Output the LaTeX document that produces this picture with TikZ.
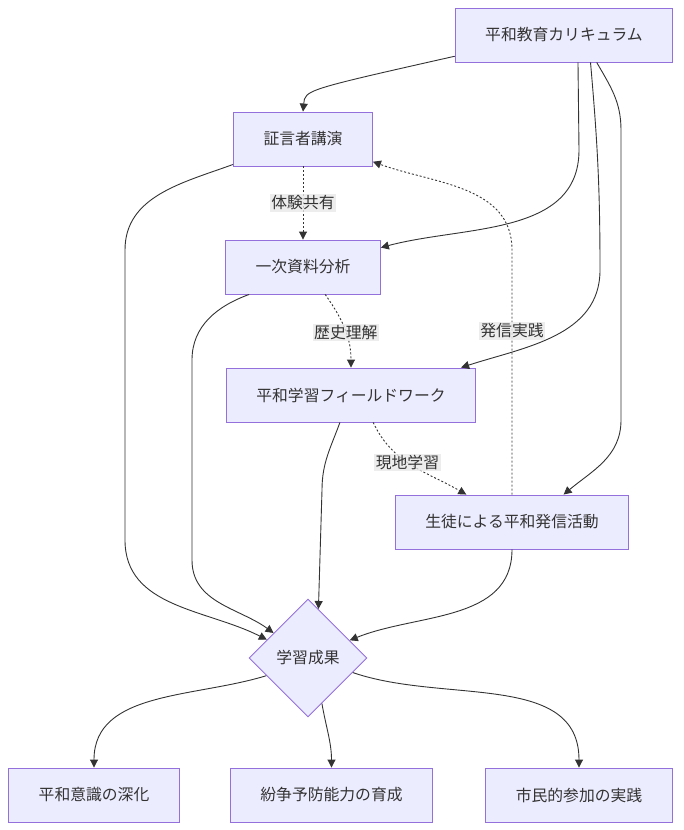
\documentclass[tikz,border=0pt]{standalone}
\usepackage{fontspec}
\usetikzlibrary{arrows.meta,shapes.geometric}
\setmainfont{Noto Sans CJK JP}
\definecolor{boxfill}{HTML}{ECECFF}
\definecolor{boxline}{HTML}{9370DB}
\definecolor{ink}{HTML}{333333}
\definecolor{lblfill}{HTML}{E8E8E8}

\begin{document}
\begin{tikzpicture}[x=1pt,y=1pt,
        font=\fontsize{15.8pt}{19pt}\selectfont, text=ink,
        box/.style={draw=boxline,fill=boxfill,line width=0.9pt,inner xsep=30pt,minimum height=54pt},
        goal/.style={diamond,draw=boxline,fill=boxfill,line width=0.9pt,inner sep=0pt,minimum width=118pt,minimum height=118pt},
        link/.style={draw=ink,line width=0.9pt,-{Triangle[length=8pt,width=8pt]}},
        dotlink/.style={link,dash pattern=on 2pt off 2pt},
        lbl/.style={fill=lblfill,fill opacity=0.8,text opacity=1,inner sep=1.5pt}]
    \useasboundingbox (0,0) rectangle (683,-830);
    \node[box] (cur) at (564,-35) {平和教育カリキュラム};
    \node[box] (lec) at (303,-139) {証言者講演};
    \node[box] (src) at (303,-267) {一次資料分析};
    \node[box] (field) at (351,-395) {平和学習フィールドワーク};
    \node[box] (act) at (512,-522) {生徒による平和発信活動};
    \node[goal] (res) at (308,-658) {学習成果};
    \node[box] (aware) at (94,-795) {平和意識の深化};
    \node[box] (prevent) at (331.5,-795) {紛争予防能力の育成};
    \node[box] (civic) at (579,-795) {市民的参加の実践};

    \draw[link] (cur.191) .. controls (305,-90) .. (lec.north);
    \draw[link] (cur.297) -- (579,-150) to[out=-90,in=15] (src.14);
    \draw[link] (cur.314) to[out=-85,in=90] (600,-270) to[out=-90,in=18] (field.14);
    \draw[link] (cur.320) to[out=-60,in=90] (621,-130) -- (621,-420) to[out=-90,in=40] (act.28);
    \draw[dotlink] (lec) -- node[lbl] {体験共有} (src);
    \draw[dotlink] (src.309) to[out=-55,in=90] node[lbl,pos=.55] {歴史理解} (field.north);
    \draw[dotlink] (field.309) to[out=-65,in=150] node[lbl,pos=.45] {現地学習} (act.149);
    \draw[dotlink] (act.north) -- node[lbl,pos=.67] {発信実践} (512,-250) to[out=90,in=-20] (lec.342);
    \draw[link] (lec.200) to[out=200,in=90] (125,-250) -- (125,-540) to[out=-90,in=153] (res.156);
    \draw[link] (src.207) to[out=200,in=90] (192,-360) -- (192,-560) to[out=-90,in=144] (res.144);
    \draw[link] (field.248) to[out=-110,in=90] (322,-490) -- (res.78);
    \draw[link] (act.south) to[out=-90,in=22] (res.23);
    \draw[link] (res.203) to[out=197,in=90] (aware.north);
    \draw[link] (res.287) to[out=-80,in=90] (prevent.north);
    \draw[link] (res.342) to[out=-19,in=90] (civic.north);
\end{tikzpicture}
\end{document}
